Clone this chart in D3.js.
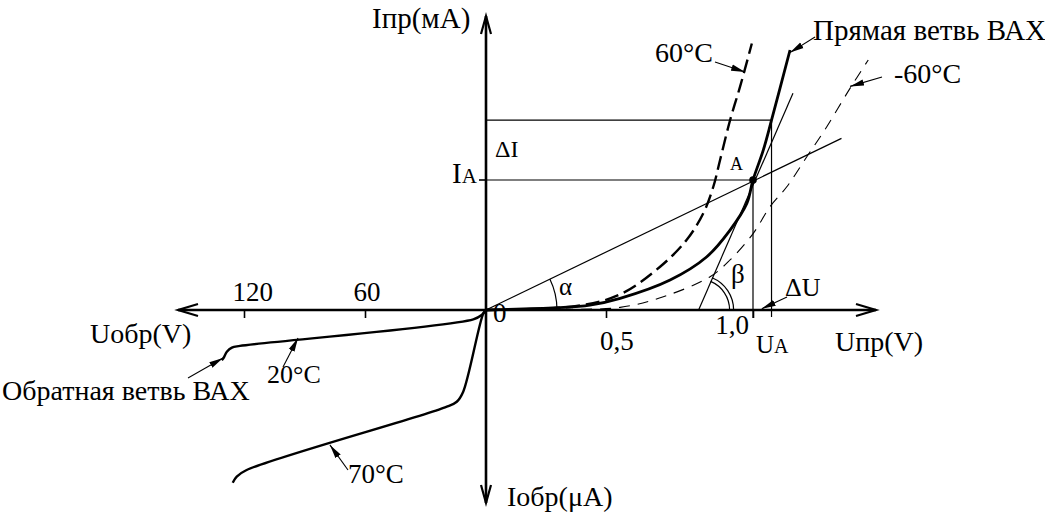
<!DOCTYPE html>
<html><head><meta charset="utf-8">
<script src="https://cdn.jsdelivr.net/npm/d3@7"></script>
<style>
body{margin:0;background:#fff}
svg{display:block}
</style>
</head><body>
<svg id="c" width="1045" height="517"></svg>
<script>
// ---- data (forward: V, mA ; reverse: V, µA) ----
const fwd20C = [[0,0],[0.295,0.18],[0.433,0.38],[0.548,0.9],[0.718,2.31],[0.843,4.1],[0.922,6.15],[0.979,8.2],[1.0,10],[1.035,12.3],[1.063,14.6],[1.126,20]];
const fwd60C = [[0,0],[0.378,0.31],[0.548,1.2],[0.684,3.33],[0.774,5.38],[0.831,7.44],[0.865,9.48],[0.888,11.54],[0.922,14.6],[0.956,17.18],[0.996,20.5]];
const fwdMinus60C = [[0,0],[0.3,0.05],[0.548,0.2],[0.695,1.02],[0.854,2.56],[0.922,3.85],[1.001,5.9],[1.058,7.95],[1.115,9.48],[1.183,11.79],[1.251,14.1],[1.33,17.05],[1.392,19.23]];
const rev20C = [[0,0],[2,2.5],[6.3,4.9],[122,18.9],[126,19.8],[128.5,22],[130,25],[131,26.5]];
const rev70C = [[0,0],[1.3,1.7],[11.3,43],[14.5,48.3],[20.3,51.2],[118.7,84.2],[123.6,87.7],[125.6,90.9]];
const pointA = [1.0, 10];
const deltaPoint = [1.063, 14.6];
const tangentLine = [[0.815,0],[1.136,16.67]];
const chordLine = [[0,0],[1.301,13.2]];
const fwdTickValues = [0.5, 1.0];
const fwdTickLabels = ["0,5", "1,0"];
const revTickValues = [60, 120];
const revTickLabels = ["60", "120"];

// ---- layout ----
const FONT = '"Liberation Serif"';
const svg = d3.select("#c");
const ox = 486, oy = 310;
const xF = d3.scaleLinear().domain([0, 0.5, 1.0]).range([ox, 606, 753]);
const yF = d3.scaleLinear().domain([0, 10]).range([oy, 180]);
const xR = d3.scaleLinear().domain([0, 120]).range([ox, 244]);
const yR = d3.scaleLinear().domain([0, 100]).range([oy, 500]);

const defs = svg.append("defs");
defs.append("marker").attr("id","ah").attr("viewBox","0 -4 14 8").attr("refX",14).attr("refY",0)
  .attr("markerWidth",14).attr("markerHeight",8).attr("markerUnits","userSpaceOnUse").attr("orient","auto")
  .append("path").attr("d","M0,-3.2L14,0L0,3.2Z").attr("fill","#000");

// ---- axes lines with open arrowheads ----
const axG = svg.append("g").attr("stroke","#000").attr("stroke-width",2.6).attr("fill","none");
axG.append("line").attr("x1",178).attr("y1",oy).attr("x2",876).attr("y2",oy);
axG.append("line").attr("x1",ox).attr("y1",16).attr("x2",ox).attr("y2",503);
axG.append("path").attr("d",`M856,304L876,${oy}L856,316`).attr("stroke-width",2.2);
axG.append("path").attr("d",`M198,304L178,${oy}L198,316`).attr("stroke-width",2.2);
axG.append("path").attr("d",`M481,34L${ox},16L491,34`).attr("stroke-width",2.2);
axG.append("path").attr("d",`M481,485L${ox},503L491,485`).attr("stroke-width",2.2);

// ticks via d3 axes
const fAx = svg.append("g").attr("transform",`translate(0,${oy})`)
  .call(d3.axisBottom(xF).tickValues(fwdTickValues).tickSize(8).tickFormat(""));
const rAx = svg.append("g").attr("transform",`translate(0,${oy})`)
  .call(d3.axisTop(xR).tickValues(revTickValues).tickSize(-8).tickPadding(9)
        .tickFormat((d,i)=>revTickLabels[i]));
[fAx, rAx].forEach(g=>{ g.attr("font-family",null).attr("font-size",null); g.select(".domain").remove(); g.selectAll("line").attr("stroke","#000").attr("stroke-width",1.6);});
rAx.selectAll("text").attr("text-anchor","start").attr("dx",-12).attr("font-size",27)
   .style("font-family",FONT).attr("fill","#000");

function txt(x,y,s,size,anchor){ return svg.append("text").attr("x",x).attr("y",y).attr("font-size",size)
  .style("font-family",FONT).attr("fill","#000").attr("text-anchor",anchor||"start").text(s); }

// forward tick labels
txt(xF(fwdTickValues[0])-6, 350, fwdTickLabels[0], 27);
txt(xF(fwdTickValues[1])-4, 334, fwdTickLabels[1], 27, "end");

// ---- construction lines ----
const thin = svg.append("g").attr("stroke","#000").attr("stroke-width",1.2).attr("fill","none");
thin.append("line").attr("x1",ox).attr("y1",yF(pointA[1])).attr("x2",xF(pointA[0])).attr("y2",yF(pointA[1]));
thin.append("line").attr("x1",ox).attr("y1",yF(deltaPoint[1])).attr("x2",xF(deltaPoint[0])).attr("y2",yF(deltaPoint[1]));
thin.append("line").attr("x1",xF(pointA[0])).attr("y1",yF(pointA[1])).attr("x2",xF(pointA[0])).attr("y2",oy+8);
thin.append("line").attr("x1",xF(deltaPoint[0])).attr("y1",yF(deltaPoint[1])).attr("x2",xF(deltaPoint[0])).attr("y2",oy+7);
thin.append("line").attr("x1",xF(tangentLine[0][0])).attr("y1",yF(tangentLine[0][1])).attr("x2",xF(tangentLine[1][0])).attr("y2",yF(tangentLine[1][1]));
thin.append("line").attr("x1",xF(chordLine[0][0])).attr("y1",yF(chordLine[0][1])).attr("x2",xF(chordLine[1][0])).attr("y2",yF(chordLine[1][1]));
svg.append("line").attr("x1",ox-7).attr("y1",yF(pointA[1])).attr("x2",ox).attr("y2",yF(pointA[1])).attr("stroke","#000").attr("stroke-width",1.6);

// angle arcs
const ang = (p,q)=>Math.atan2(-(q[1]-p[1]), q[0]-p[0]);
const cO = [xF(0), yF(0)], cA = [xF(pointA[0]), yF(pointA[1])];
const aAlpha = ang(cO, cA);
let p = d3.path(); p.arc(cO[0], cO[1], 71, 0, -aAlpha, true);
thin.append("path").attr("d", p.toString());
const tb = [xF(tangentLine[0][0]), yF(tangentLine[0][1])];
const aBeta = ang(tb, cA);
[31, 35].forEach(r=>{ const q = d3.path(); q.arc(tb[0], tb[1], r, 0, -aBeta, true); thin.append("path").attr("d", q.toString()); });

// ---- curves ----
const lineF = d3.line().x(d=>xF(d[0])).y(d=>yF(d[1])).curve(d3.curveCatmullRom.alpha(0.5));
const lineR = d3.line().x(d=>xR(d[0])).y(d=>yR(d[1])).curve(d3.curveCatmullRom.alpha(0.5));
svg.append("path").attr("d",lineF(fwdMinus60C)).attr("fill","none").attr("stroke","#000").attr("stroke-width",1.1).attr("stroke-dasharray","11,8");
svg.append("path").attr("d",lineF(fwd60C)).attr("fill","none").attr("stroke","#000").attr("stroke-width",2.4).attr("stroke-dasharray","14,6");
svg.append("path").attr("d",lineF(fwd20C)).attr("fill","none").attr("stroke","#000").attr("stroke-width",2.8);
svg.append("path").attr("d",lineR(rev20C)).attr("fill","none").attr("stroke","#000").attr("stroke-width",2.4);
svg.append("path").attr("d",lineR(rev70C)).attr("fill","none").attr("stroke","#000").attr("stroke-width",2.4);
svg.append("circle").attr("cx",cA[0]).attr("cy",cA[1]).attr("r",3.8).attr("fill","#000");

// ---- leaders ----
const leaders = [
  {tip:[xF(0.973), yF(18.3)], from:[715,62]},
  {tip:[xF(1.126), yF(19.8)], from:[815,37]},
  {tip:[xF(1.33), yF(17.2)], from:[882,77]},
  {tip:[xF(1.03), yF(0.1)], from:[787,297]},
  {tip:[xR(93.2), yR(14.7)], from:[283,367]},
  {tip:[xR(130.4), yR(25.3)], from:[188,378]},
  {tip:[xR(77.4), yR(71)], from:[348,470]}
];
leaders.forEach(l=>svg.append("line").attr("x1",l.from[0]).attr("y1",l.from[1]).attr("x2",l.tip[0]).attr("y2",l.tip[1])
  .attr("stroke","#000").attr("stroke-width",1.1).attr("marker-end","url(#ah)"));

// ---- texts ----
txt(372,28,"Iпр(мА)",29);
txt(813,40,"Прямая ветвь ВАХ",29);
txt(655,62,"60°C",28);
txt(894,83,"-60°C",28);
txt(495,157,"ΔI",24);
txt(730,170,"A",18);
const ia = txt(452,183,"",29);
ia.append("tspan").text("I"); ia.append("tspan").attr("font-size",21).text("A");
txt(493,322,"0",27);
txt(559,295,"α",25);
txt(731,283,"β",27);
txt(785,296,"ΔU",26);
const ua = txt(756,353,"",25);
ua.append("tspan").text("U"); ua.append("tspan").attr("font-size",20).text("A");
txt(835,351,"Uпр(V)",28);
txt(90,343,"Uобр(V)",28);
txt(2,400,"Обратная ветвь ВАХ",28);
txt(267,383,"20°C",26);
txt(348,483,"70°C",27);
txt(507,506,"Iобр(μA)",28);
</script>
</body></html>
